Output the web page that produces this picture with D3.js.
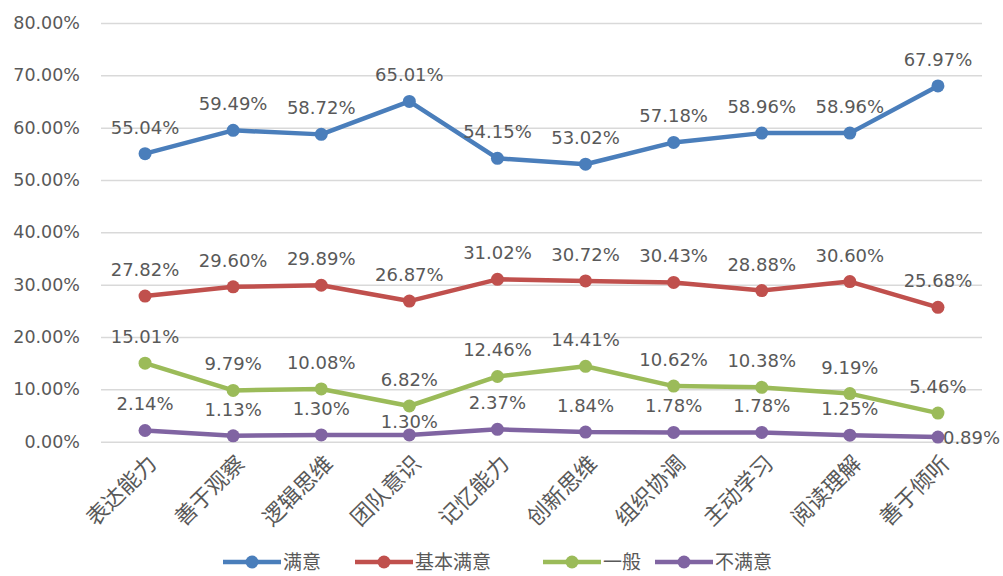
<!DOCTYPE html>
<html lang="zh">
    <head>
        <meta charset="utf-8">
        <title>满意度折线图</title>
        <script type="text/javascript" src="https://cdn.jsdelivr.net/npm/d3@7/dist/d3.min.js"></script>
        <style type="text/css">
            body { margin: 0; background: #fff; }
            .grid line { stroke: #d9d9d9; stroke-width: 1.5; }
            .grid path { display: none; }
            .axis text { font-family: "DejaVu Sans", sans-serif; font-size: 17.5px; fill: #595959; }
            .cat text { font-family: "Noto Sans CJK SC", sans-serif; font-size: 22px; fill: #595959; }
            .lbl { font-family: "DejaVu Sans", sans-serif; font-size: 18px; fill: #595959; }
            .legend text { font-family: "Noto Sans CJK SC", sans-serif; font-size: 19px; fill: #595959; }
        </style>
    </head>
    <body>
        <div class="chart"></div>
        <script type="text/javascript">
            // 数据
            var categories = ["表达能力", "善于观察", "逻辑思维", "团队意识", "记忆能力",
                              "创新思维", "组织协调", "主动学习", "阅读理解", "善于倾听"];
            var seriesNames = ["满意", "基本满意", "一般", "不满意"];
            var manyi      = [55.04, 59.49, 58.72, 65.01, 54.15, 53.02, 57.18, 58.96, 58.96, 67.97];
            var jibenManyi = [27.82, 29.60, 29.89, 26.87, 31.02, 30.72, 30.43, 28.88, 30.60, 25.68];
            var yiban      = [15.01, 9.79, 10.08, 6.82, 12.46, 14.41, 10.62, 10.38, 9.19, 5.46];
            var buManyi    = [2.14, 1.13, 1.30, 1.30, 2.37, 1.84, 1.78, 1.78, 1.25, 0.89];
            var yTicks = [0, 10, 20, 30, 40, 50, 60, 70, 80];
            var colors = ["#4A7EBB", "#C0504D", "#9BBB59", "#8064A2"];

            var series = [manyi, jibenManyi, yiban, buManyi].map(function(v, i) {
                return {name: seriesNames[i], values: v, color: colors[i], idx: i};
            });

            var w = 1003, h = 576;
            var plotLeft = 101, plotRight = 982, plotTop = 23, plotBottom = 441.7;

            var svg = d3.select("div.chart").append("svg")
                        .attr("width", w).attr("height", h);

            var xScale = d3.scaleBand()
                           .domain(categories)
                           .range([plotLeft, plotRight]);
            var yScale = d3.scaleLinear()
                           .domain([0, 80])
                           .range([plotBottom, plotTop]);
            var cx = function(c) { return xScale(c) + xScale.bandwidth() / 2; };

            // 网格线
            svg.append("g")
               .attr("class", "grid")
               .attr("transform", "translate(" + plotLeft + ",0)")
               .call(d3.axisRight(yScale).tickValues(yTicks).tickSize(plotRight - plotLeft).tickFormat(""));

            // y轴刻度文字
            svg.append("g")
               .attr("class", "axis")
               .selectAll("text")
               .data(yTicks)
               .enter()
               .append("text")
               .attr("x", 80)
               .attr("y", function(d) { return yScale(d); })
               .attr("dy", "0.35em")
               .attr("text-anchor", "end")
               .text(function(d) { return d.toFixed(2) + "%"; });

            // x轴分类文字，旋转-45度
            svg.append("g")
               .attr("class", "cat")
               .selectAll("text")
               .data(categories)
               .enter()
               .append("text")
               .attr("text-anchor", "end")
               .attr("transform", function(d) {
                   return "translate(" + (cx(d) + 13) + "," + 465 + ") rotate(-45)";
               })
               .text(function(d) { return d; });

            var line = d3.line()
                         .x(function(d, i) { return cx(categories[i]); })
                         .y(function(d) { return yScale(d); });

            var g = svg.selectAll("g.series")
                       .data(series)
                       .enter()
                       .append("g")
                       .attr("class", "series");

            g.append("path")
             .attr("d", function(s) { return line(s.values); })
             .attr("fill", "none")
             .attr("stroke", function(s) { return s.color; })
             .attr("stroke-width", 4.5)
             .attr("stroke-linejoin", "round");

            g.selectAll("circle")
             .data(function(s) { return s.values.map(function(v, i) { return {v: v, i: i, s: s}; }); })
             .enter()
             .append("circle")
             .attr("cx", function(d) { return cx(categories[d.i]); })
             .attr("cy", function(d) { return yScale(d.v); })
             .attr("r", 6.5)
             .attr("fill", function(d) { return d.s.color; });

            // 数据标签
            g.selectAll("text.lbl")
             .data(function(s) { return s.values.map(function(v, i) { return {v: v, i: i, s: s}; }); })
             .enter()
             .append("text")
             .attr("class", "lbl")
             .attr("x", function(d) {
                 var x = cx(categories[d.i]);
                 return (d.s.idx === 3 && d.i === 9) ? x + 5 : x;
             })
             .attr("y", function(d) {
                 var y = yScale(d.v);
                 if (d.s.idx === 3 && d.i === 9) return y + 7;   // 最后一个放右边
                 if (d.s.idx === 3 && d.i === 3) return y - 7;   // 避开一般的点
                 return y - 20;
             })
             .attr("text-anchor", function(d) { return (d.s.idx === 3 && d.i === 9) ? "start" : "middle"; })
             .text(function(d) { return d.v.toFixed(2) + "%"; });

            // 图例
            var legendX = [223, 355, 543, 655];
            var lg = svg.append("g")
                        .attr("class", "legend")
                        .selectAll("g")
                        .data(series)
                        .enter()
                        .append("g")
                        .attr("transform", function(s, i) { return "translate(" + legendX[i] + ",562)"; });
            lg.append("line")
              .attr("x1", 0).attr("x2", 58)
              .attr("stroke", function(s) { return s.color; })
              .attr("stroke-width", 4.5);
            lg.append("circle")
              .attr("cx", 29).attr("r", 6.5)
              .attr("fill", function(s) { return s.color; });
            lg.append("text")
              .attr("x", 60)
              .attr("dy", "0.35em")
              .text(function(s) { return s.name; });
        </script>
    </body>
</html>
